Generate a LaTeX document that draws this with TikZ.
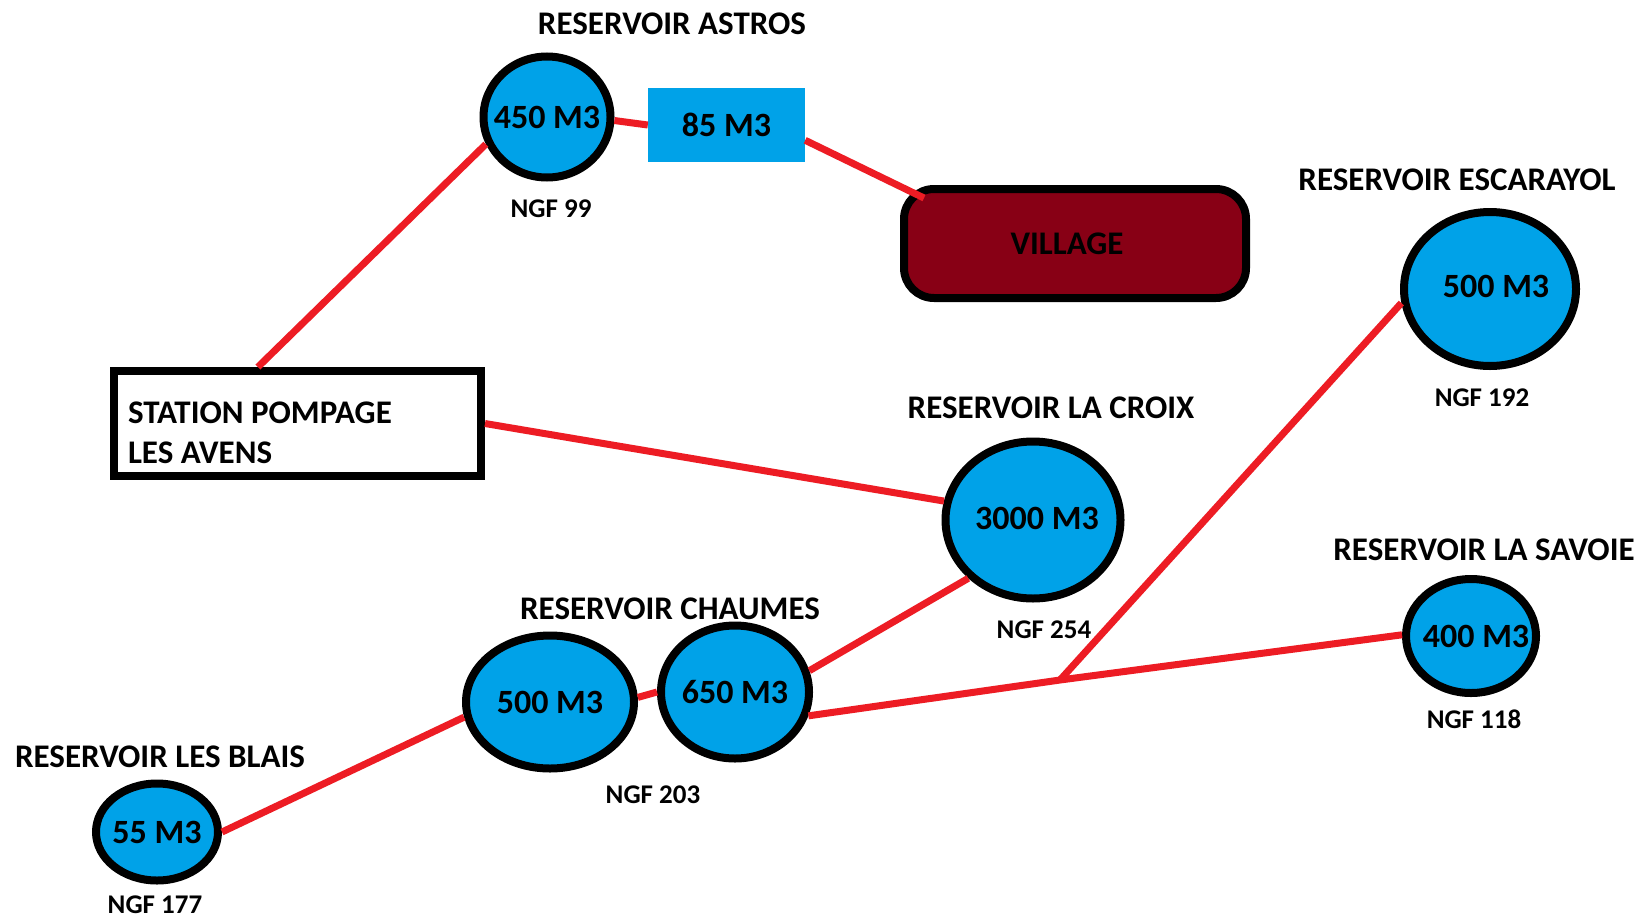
\documentclass[tikz,border=0pt]{standalone}
\usepackage{fontspec}
\setmainfont{Carlito}
\usetikzlibrary{shapes.geometric,calc}
\definecolor{pipe}{HTML}{ED1C24}
\definecolor{tank}{HTML}{00A2E8}
\definecolor{vill}{HTML}{880015}
\begin{document}
\begin{tikzpicture}[x=1pt,y=-1pt,
  tankst/.style={ellipse, draw=black, fill=tank, line width=8pt, inner sep=0pt, font=\fontsize{34}{40}\selectfont\bfseries},
  title/.style={font=\fontsize{33}{38}\selectfont\bfseries, inner sep=0pt},
  ngf/.style={font=\fontsize{27}{32}\selectfont\bfseries, inner sep=0pt},
  pipeline/.style={draw=pipe, line width=7pt}]
\useasboundingbox[fill=white] (0,0) rectangle (1645,918);

% tanks
\node[tankst, minimum width=127, minimum height=121] (astros) at (547,117) {\makebox[0pt]{450 M3}};
\node[fill=tank, minimum width=157, minimum height=74, inner sep=0pt, font=\fontsize{34}{40}\selectfont\bfseries] (astrosb) at (726.5,125) {85 M3};
\node[draw=black, line width=8pt, fill=vill, rounded corners=30pt, minimum width=342, minimum height=109, font=\fontsize{33}{38}\selectfont\bfseries] (village) at (1075,243.5) {VILLAGE\hspace*{16pt}};
\node[draw=black, line width=8pt, fill=white, minimum width=367, minimum height=105, text width=339, inner xsep=14pt, align=flush left, font=\fontsize{33}{40}\selectfont\bfseries] (station) at (297.5,423.5) {\rule{0pt}{40pt}STATION POMPAGE\\LES AVENS};
\node[tankst, minimum width=175, minimum height=157] (lacroix) at (1033,520) {\makebox[0pt]{\hspace*{8pt}\raisebox{3pt}{3000 M3}}};
\node[tankst, minimum width=172, minimum height=154] (escarayol) at (1490,289) {\makebox[0pt]{\hspace*{12pt}\raisebox{6pt}{500 M3}}};
\node[tankst, minimum width=130, minimum height=114] (savoie) at (1471,636) {\makebox[0pt]{\hspace*{10pt}400 M3}};
\node[tankst, minimum width=168, minimum height=133] (cfive) at (550,702) {\makebox[0pt]{500 M3}};
\node[tankst, minimum width=148, minimum height=133] (csix) at (735,692) {\makebox[0pt]{650 M3}};
\node[tankst, minimum width=122, minimum height=97] (blais) at (157,832) {\makebox[0pt]{55 M3}};

% titles
\node[title] (tastros) at (672,24) {RESERVOIR ASTROS};
\node[title] (tlacroix) at (1051,408) {RESERVOIR LA CROIX};
\node[title] (tescarayol) at (1457,180) {RESERVOIR ESCARAYOL};
\node[title] (tsavoie) at (1484,550) {RESERVOIR LA SAVOIE};
\node[title] (tchaumes) at (670,609) {RESERVOIR CHAUMES};
\node[title] (tblais) at (160,757) {RESERVOIR LES BLAIS};

% NGF
\node[ngf] (nastros) at (551,209) {NGF 99};
\node[ngf] (nlacroix) at (1044,630) {NGF 254};
\node[ngf] (nescarayol) at (1482,398) {NGF 192};
\node[ngf] (nsavoie) at (1474,719) {NGF 118};
\node[ngf] (nchaumes) at (653,795) {NGF 203};
\node[ngf] (nblais) at (155,905) {NGF 177};

% pipes
\coordinate (junc) at (1060,680);
\draw[pipeline] (station.125.5) -- (astros.204);
\draw[pipeline] (astros.-3) -- (astrosb.west);
\draw[pipeline] (astrosb.-11) -- ($(village.north west)+(24,13)$);
\draw[pipeline] (station.east) -- (lacroix.168.8);
\draw[pipeline] (csix.16) -- (lacroix.222);
\draw[pipeline] (csix.342) -- (junc) -- (savoie.179);
\draw[pipeline] (junc) -- (escarayol.189);
\draw[pipeline] (cfive.3) -- (csix.180);
\draw[pipeline] (blais.0) -- (cfive.190);
\end{tikzpicture}
\end{document}
